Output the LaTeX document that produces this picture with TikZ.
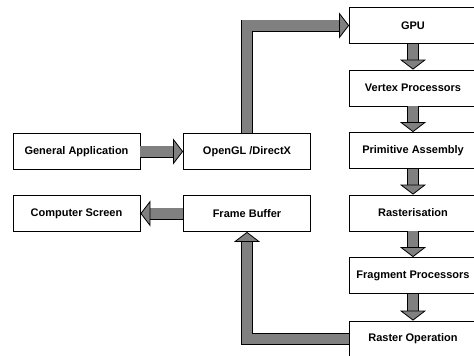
\documentclass[tikz,border=0pt]{standalone}
\usepackage{fontspec}
\setmainfont{Liberation Sans}
\usepackage{xcolor}
\usepackage{tikz}
\usetikzlibrary{arrows.meta}
\definecolor{shaftgray}{RGB}{128,128,128}

\begin{document}
\begin{tikzpicture}[x=1pt, y=-1pt,
	box/.style={draw, line width=0.8pt, fill=white, minimum width=127pt, minimum height=36pt, inner sep=0pt, font=\bfseries\fontsize{11}{13}\selectfont},
	fat/.style={draw=shaftgray, line width=10.4pt, line join=miter, -{Triangle[length=10pt, width=26pt, line width=0.8pt, fill=shaftgray, color=black]}, preaction={draw=black, line width=12pt, arrows=-, shorten >=9.6pt}}]
	\useasboundingbox (0, 0) rectangle (474, 356);
	\clip (0, 0) rectangle (474, 356);
	\node[box] (app) at (76.5, 151.5) {General Application};
	\node[box] (screen) at (76.5, 213.5) {Computer Screen};
	\node[box] (api) at (247, 151.5) {OpenGL /DirectX};
	\node[box] (fb) at (247, 213.5) {Frame Buffer};
	\node[box] (gpu) at (413, 25.5) {GPU};
	\node[box] (vp) at (413, 88) {Vertex Processors};
	\node[box] (pa) at (413, 150.5) {Primitive Assembly};
	\node[box] (ras) at (413, 213) {Rasterisation};
	\node[box] (fp) at (413, 275.5) {Fragment Processors};
	\node[box] (rop) at (413, 339) {Raster Operation};
	\draw[fat] (app) -- (api);
	\draw[fat] (fb) -- (screen);
	\draw[fat] (api.north) |- (gpu.west);
	\draw[fat] (gpu) -- (vp);
	\draw[fat] (vp) -- (pa);
	\draw[fat] (pa) -- (ras);
	\draw[fat] (ras) -- (fp);
	\draw[fat] (fp) -- (rop);
	\draw[fat] (rop.west) -| (fb.south);
\end{tikzpicture}
\end{document}
